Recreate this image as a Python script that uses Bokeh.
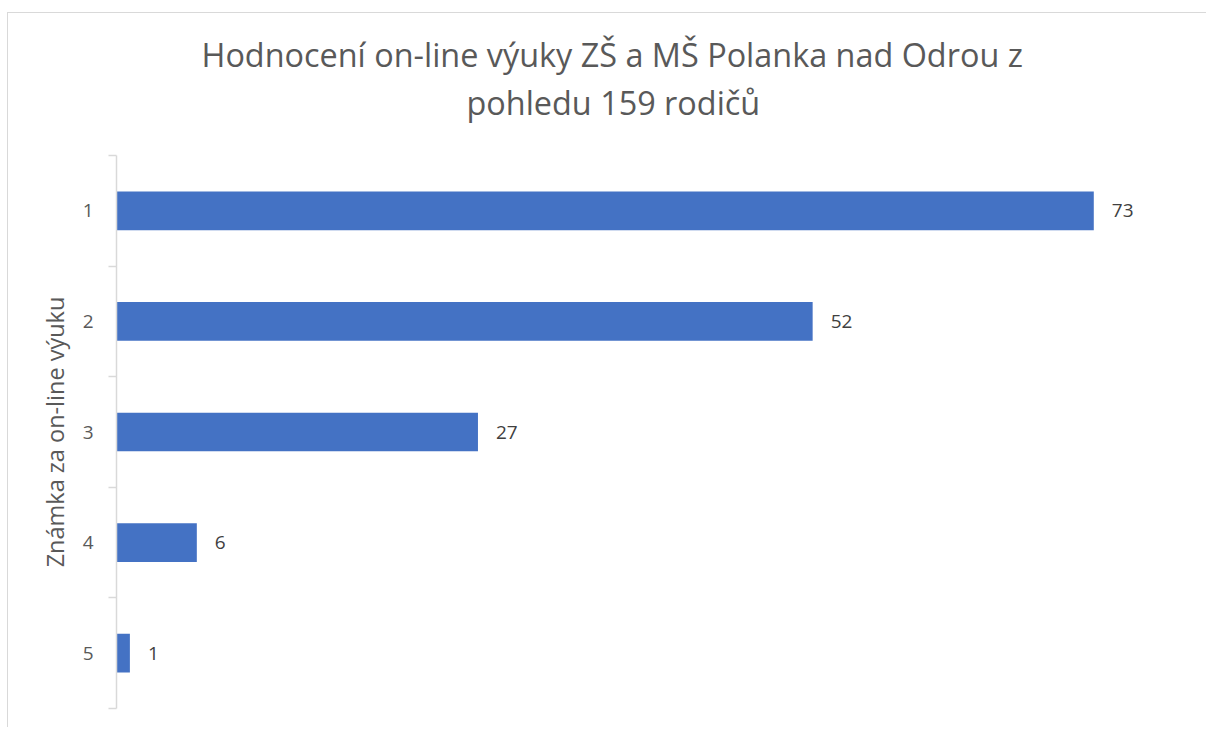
from bokeh.plotting import figure
from bokeh.models import Range1d, FixedTicker, Title, ColumnDataSource
from bokeh.core.properties import value
from bokeh.embed import file_html
from bokeh.resources import INLINE

title_lines = ["Hodnocení on-line výuky ZŠ a MŠ Polanka nad Odrou z", "pohledu 159 rodičů"]
categories = ["1", "2", "3", "4", "5"]
counts = [73, 52, 27, 6, 1]
axis_title = "Známka za on-line výuku"

FONT = "Open Sans"
positions = [i + 1 for i in range(len(categories))]

src = ColumnDataSource(dict(y=positions, v=counts, lbl=[str(c) for c in counts]))

p = figure(width=1199, height=715, output_backend="svg", toolbar_location=None,
           x_range=Range1d(0, 80), y_range=Range1d(len(categories) + 0.5, 0.5),
           min_border_left=108, min_border_right=20, min_border_top=142, min_border_bottom=20,
           title=None)
p.margin = (12, 0, 0, 7)
p.styles = {"border-left": "1px solid #d9d9d9", "border-top": "1px solid #d9d9d9"}
p.outline_line_color = None
p.grid.visible = False
p.xaxis.visible = False

p.hbar(y="y", left=0, right="v", height=0.35, source=src, fill_color="#4472C4", line_color=None)
p.text(x="v", y="y", text="lbl", source=src, x_offset=18, text_baseline="middle", text_align="left",
       text_font=value(FONT), text_font_size="19px", text_color="#404040")

ya = p.yaxis[0]
ya.ticker = FixedTicker(ticks=positions, minor_ticks=[i + 0.5 for i in range(len(categories) + 1)])
ya.major_label_overrides = {pos: c for pos, c in zip(positions, categories)}
ya.major_tick_line_color = None
ya.major_tick_out = 0
ya.major_tick_in = 0
ya.minor_tick_line_color = "#d9d9d9"
ya.minor_tick_out = 8
ya.minor_tick_in = 0
ya.minor_tick_line_width = 1.5
ya.axis_line_color = "#d9d9d9"
ya.axis_line_width = 1.5
ya.major_label_standoff = 15
ya.major_label_text_font = FONT
ya.major_label_text_font_size = "19px"
ya.major_label_text_color = "#595959"
ya.axis_label = axis_title
ya.axis_label_text_font = FONT
ya.axis_label_text_font_size = "23.5px"
ya.axis_label_text_font_style = "normal"
ya.axis_label_text_color = "#595959"
ya.axis_label_standoff = 9

for txt, off, so in zip(reversed(title_lines), [350, 85], [63, -59]):
    p.add_layout(Title(text=txt, align="left", offset=off, text_font=FONT, text_font_size="32.4px",
                       text_font_style="normal", text_color="#595959", standoff=so), "above")

open("out.html", "w").write(file_html(p, INLINE))
